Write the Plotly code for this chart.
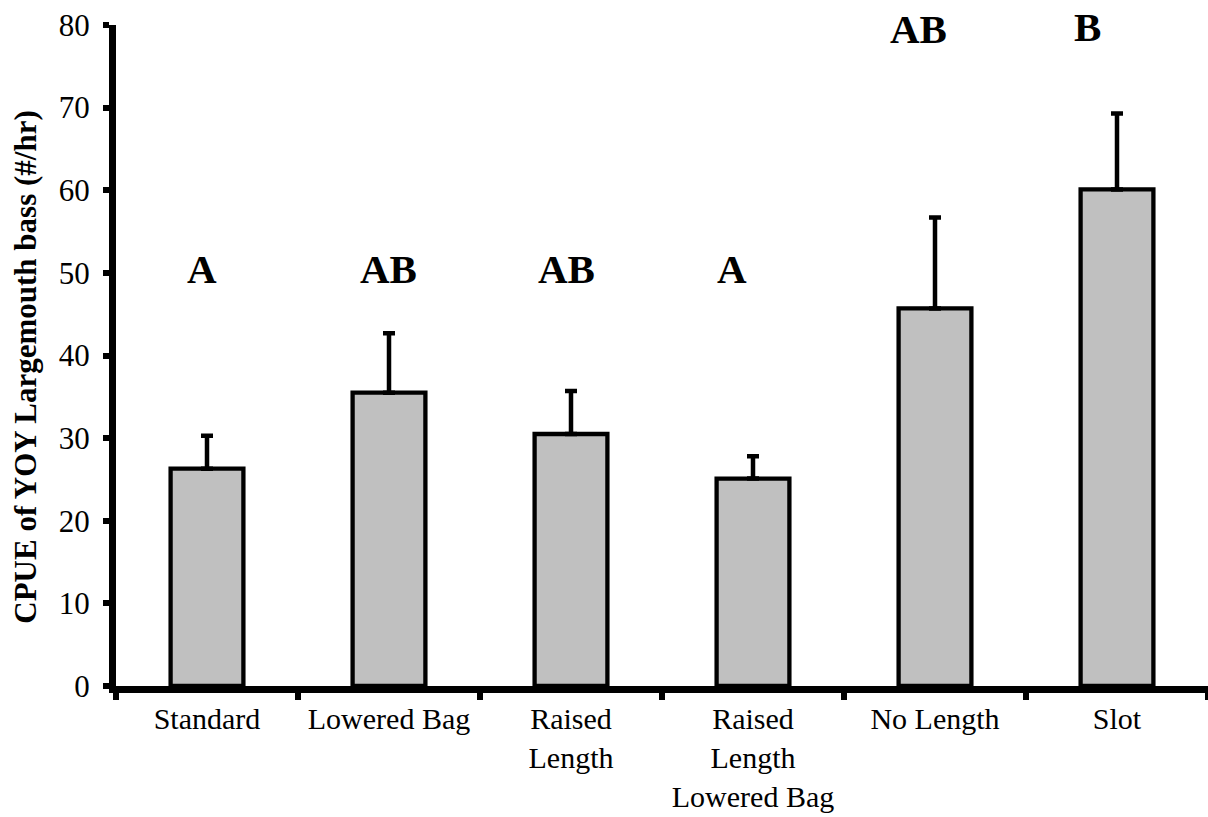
import plotly.graph_objects as go

# Regulation scenarios and mean CPUE of age-0 largemouth bass (fish per hour)
categories = ["Standard", "Lowered Bag", "Raised<br>Length",
              "Raised<br>Length<br>Lowered Bag", "No Length", "Slot"]
cpue_mean = [26.3, 35.5, 30.5, 25.1, 45.7, 60.1]
cpue_se = [4.0, 7.2, 5.2, 2.7, 11.0, 9.2]

# Significance groupings and where they sit on the value axis
group_letters = ["A", "AB", "AB", "A", "AB", "B"]
letter_y = [50.5, 50.5, 50.5, 50.5, 79.5, 79.7]

y_ticks = [0, 10, 20, 30, 40, 50, 60, 70, 80]

SERIF = "Liberation Serif, Times New Roman, serif"
letter_nudge = [-5, -1, -5, -21, -17, -30]

fig = go.Figure()
fig.add_trace(go.Bar(
    x=categories,
    y=cpue_mean,
    width=0.4,
    marker=dict(color="#C0C0C0", line=dict(color="black", width=4.3)),
    error_y=dict(type="data", symmetric=False, array=cpue_se,
                 arrayminus=[0] * len(cpue_se),
                 color="black", thickness=4.5, width=6),
    showlegend=False,
))

for cat, letter, yv, dx in zip(categories, group_letters, letter_y, letter_nudge):
    fig.add_annotation(x=cat, y=yv, text=letter, showarrow=False,
                       xanchor="center", yanchor="middle", xshift=dx,
                       font=dict(family=SERIF, size=41, color="black", weight="bold"))

fig.add_annotation(xref="paper", yref="paper", x=-0.0824, y=0.483,
                   text="<b>CPUE of YOY Largemouth bass (#/hr)</b>",
                   textangle=-90, showarrow=False,
                   xanchor="center", yanchor="middle",
                   font=dict(family=SERIF, size=31, color="black"))

fig.update_layout(
    width=1208, height=817,
    margin=dict(l=116, r=0, t=25, b=131, autoexpand=False),
    paper_bgcolor="white", plot_bgcolor="white",
    font=dict(family=SERIF, size=31, color="black"),
    bargap=0.6,
)
fig.update_xaxes(
    showline=True, linewidth=7, linecolor="black",
    ticks="outside", tickson="boundaries", ticklen=7, tickwidth=6, tickcolor="black",
    showgrid=False, zeroline=False, ticklabelstandoff=0, tickangle=0,
    tickfont=dict(family=SERIF, size=30, color="black"),
)
fig.update_yaxes(
    range=[0, 80], tickvals=y_ticks,
    showline=True, linewidth=7, linecolor="black",
    ticks="outside", ticklen=6, tickwidth=6, tickcolor="black",
    showgrid=False, zeroline=False, ticklabelstandoff=7,
    tickfont=dict(family=SERIF, size=31, color="black"),
)

fig.write_html("out.html")
